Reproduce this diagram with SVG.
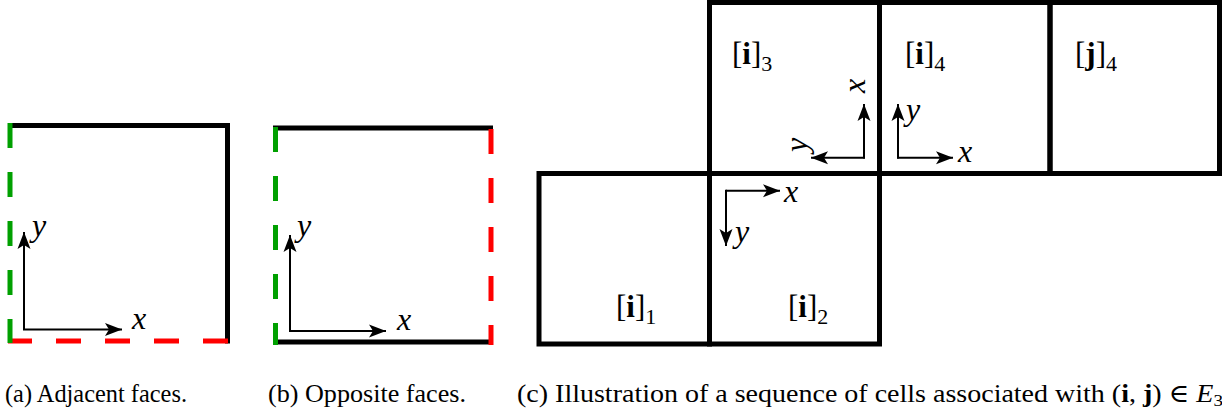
<svg xmlns="http://www.w3.org/2000/svg" width="1222" height="418" viewBox="0 0 1222 418">
<defs>
<marker id="ah" markerUnits="userSpaceOnUse" markerWidth="24" markerHeight="16" viewBox="-18 -8 20 16" refX="0" refY="0" orient="auto">
<path d="M0,0 L-17,-6.5 L-13,0 L-17,6.5 Z" fill="#000"/>
</marker>
<style>
.cell{fill:none;stroke:#000;stroke-width:5}
.blk{stroke:#000;stroke-width:5;fill:none}
.grn{stroke:#00a000;stroke-width:5;fill:none;stroke-dasharray:25 24}
.red{stroke:#ff0000;stroke-width:5;fill:none;stroke-dasharray:25 24}
.ax{stroke:#000;stroke-width:2;fill:none;marker-end:url(#ah)}
.m{font-family:'Liberation Serif','DejaVu Serif',serif;font-style:italic;font-size:32px;fill:#000}
.lab{font-family:'Liberation Serif','DejaVu Serif',serif;font-size:31px;fill:#000}
.sub{font-size:22px}
.cap{font-family:'Liberation Serif','DejaVu Serif',serif;font-size:25px;fill:#000}
</style>
</defs>
<rect width="1222" height="418" fill="#fff"/>

<g id="panel-a">
<path class="blk" d="M8,125.5 H227.5 V343.5"/>
<path class="red" d="M228,341 H8"/>
<path class="grn" d="M10,123 V343"/>
<g id="axes-a">
<line class="ax" x1="24" y1="329.5" x2="24" y2="232"/>
<line class="ax" x1="23" y1="329.5" x2="122" y2="329.5"/>
<text class="m" x="32" y="236">y</text>
<text class="m" x="132" y="329">x</text>
</g>
</g>

<g id="panel-b">
<path class="blk" d="M273,128 H493"/>
<path class="blk" d="M273,342 H493"/>
<path class="grn" d="M275.5,127 V345"/>
<path class="red" d="M491,129 V345"/>
<g id="axes-b">
<line class="ax" x1="290" y1="331" x2="290" y2="235"/>
<line class="ax" x1="289" y1="331" x2="386" y2="331"/>
<text class="m" x="297" y="236">y</text>
<text class="m" x="397" y="330">x</text>
</g>
</g>

<g id="cell-i1">
<rect class="cell" x="539" y="173.5" width="170.5" height="170.5"/>
<text class="lab" x="616" y="317">[<tspan font-weight="bold">i</tspan>]<tspan class="sub" dy="7">1</tspan></text>
</g>
<g id="cell-i2">
<rect class="cell" x="709.5" y="173.5" width="170" height="170.5"/>
<text class="lab" x="788" y="317">[<tspan font-weight="bold">i</tspan>]<tspan class="sub" dy="7">2</tspan></text>
</g>
<g id="cell-i3">
<rect class="cell" x="709.5" y="2.5" width="170" height="171"/>
<text class="lab" x="732" y="64">[<tspan font-weight="bold">i</tspan>]<tspan class="sub" dy="7">3</tspan></text>
</g>
<g id="cell-i4">
<rect class="cell" x="879.5" y="2.5" width="170.5" height="171"/>
<text class="lab" x="905" y="64">[<tspan font-weight="bold">i</tspan>]<tspan class="sub" dy="7">4</tspan></text>
</g>
<g id="cell-j4">
<rect class="cell" x="1050" y="2.5" width="169.5" height="171"/>
<text class="lab" x="1075" y="64">[<tspan font-weight="bold">j</tspan>]<tspan class="sub" dy="7">4</tspan></text>
</g>

<g id="connectors">
<line class="ax" x1="864" y1="158.5" x2="864" y2="104"/>
<line class="ax" x1="865" y1="157.7" x2="811" y2="157.7"/>
<line class="ax" x1="898" y1="158.5" x2="898" y2="104"/>
<line class="ax" x1="897" y1="157.7" x2="953" y2="157.7"/>
<line class="ax" x1="726" y1="190.7" x2="780" y2="190.7"/>
<line class="ax" x1="726" y1="189.7" x2="726" y2="246"/>
</g>
<g id="axis-labels">
<text class="m" transform="translate(865,93) rotate(-90)">x</text>
<text class="m" transform="translate(807,152) rotate(-90)">y</text>
<text class="m" x="906" y="120">y</text>
<text class="m" x="958" y="162">x</text>
<text class="m" x="784" y="202">x</text>
<text class="m" x="735" y="242">y</text>
</g>

<g id="captions">
<text class="cap" x="5" y="402" textLength="182" lengthAdjust="spacingAndGlyphs">(a) Adjacent faces.</text>
<text class="cap" x="268" y="402" textLength="198" lengthAdjust="spacingAndGlyphs">(b) Opposite faces.</text>
<text class="cap" x="517" y="402" textLength="706" lengthAdjust="spacingAndGlyphs">(c) Illustration of a sequence of cells associated with (<tspan font-weight="bold">i</tspan>, <tspan font-weight="bold">j</tspan>) ∈ <tspan font-style="italic">E</tspan><tspan font-size="17" dy="4">3</tspan></text>
</g>
</svg>
